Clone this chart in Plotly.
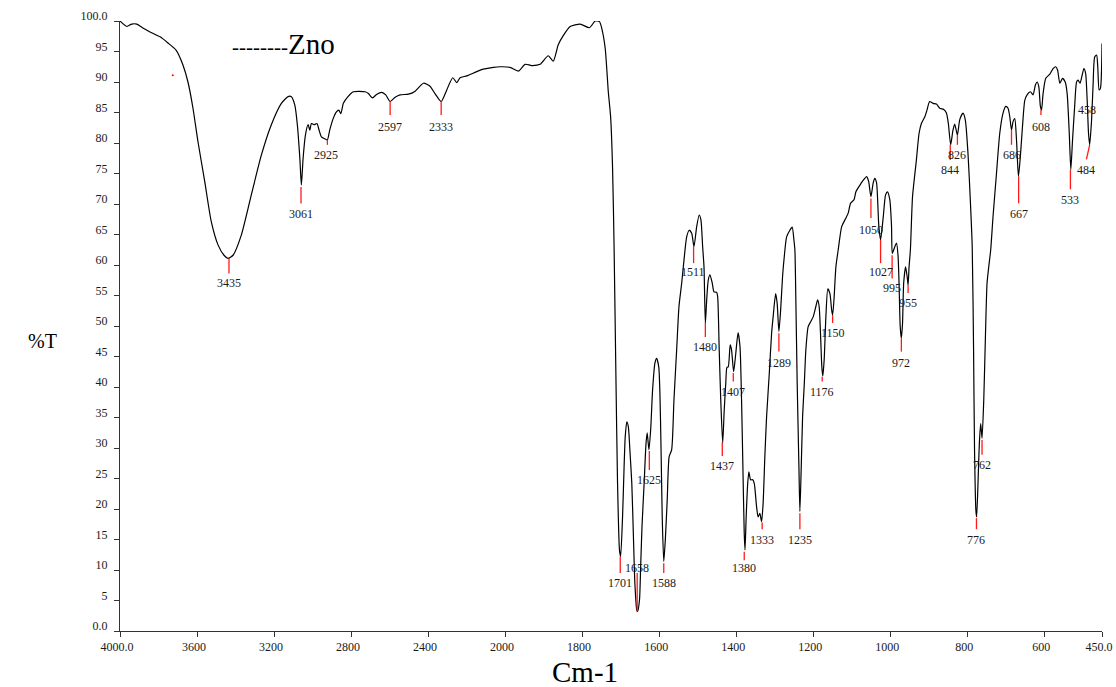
import numpy as np
import plotly.graph_objects as go

# ---------------- data ----------------
wavenumber = [4000, 3965, 3939, 3913, 3879, 3844, 3792, 3751, 3708,
              3673, 3647, 3621, 3595, 3560, 3526, 3491, 3460, 3439, 3413,
              3370, 3318, 3266, 3214, 3162, 3127, 3110, 3092, 3079, 3066, 3058, 3049, 3037,
              3023, 3014, 3006, 2992, 2977, 2966, 2954, 2937, 2923, 2911, 2893, 2876, 2864,
              2853, 2840, 2816, 2788, 2727, 2710, 2689, 2666, 2641, 2620, 2597, 2571, 2545,
              2502, 2467, 2424, 2390, 2364, 2332, 2303, 2272, 2251, 2234, 2199, 2147, 2113,
              2061, 2026, 1987, 1965.5, 1948, 1931, 1909, 1888, 1875, 1862, 1849, 1831, 1805,
              1781, 1766, 1755, 1749, 1740, 1732, 1726, 1721, 1717, 1712, 1708, 1703, 1700,
              1695, 1691, 1688, 1684, 1680, 1676, 1671, 1667, 1663, 1658, 1656, 1651, 1648,
              1644.5, 1639, 1634, 1631, 1626.5, 1622, 1617, 1611, 1606.5, 1601, 1598, 1595,
              1592, 1588, 1584, 1579, 1574, 1567.5, 1561.5, 1554.5, 1548.5, 1541.5, 1535.5,
              1528.5, 1522, 1515.5, 1509.5, 1502.5, 1496, 1491.5, 1487, 1483.5, 1480, 1476.5,
              1472.5, 1468, 1462, 1457.5, 1450.5, 1448, 1444, 1440, 1435, 1431, 1427, 1424,
              1420.5, 1415.5, 1412, 1406.5, 1401, 1395, 1390, 1386, 1382.5, 1379, 1377, 1374,
              1370, 1367, 1362.5, 1357, 1353, 1347, 1343, 1338.5, 1334, 1330, 1325.5, 1321,
              1314, 1308, 1304, 1297.5, 1293.5, 1289, 1284.5, 1279.5, 1275, 1269, 1260.5,
              1254.5, 1250, 1247.5, 1245, 1241.5, 1237, 1234.5, 1231, 1227.5, 1223, 1219,
              1213, 1206.5, 1200, 1193, 1188.5, 1184.5, 1181, 1177.5, 1175, 1171.5, 1167,
              1162, 1156.5, 1152, 1149.5, 1146, 1141, 1135, 1126, 1117.5, 1109, 1103, 1094,
              1089, 1078.5, 1070, 1061, 1056, 1050, 1044, 1040, 1035.5, 1029.5, 1025, 1018,
              1012, 1007, 1001, 996.5, 994.5, 988, 983.5, 979.5, 977, 974, 971, 968, 965, 960,
              956, 953.5, 951, 947.5, 942, 932, 925, 919, 910, 904.5, 897.5, 889, 880, 871.5,
              861, 854, 849, 843, 837, 832.5, 825.5, 819.5, 811, 805, 798, 792, 787, 783.5,
              781, 777.5, 775.5, 772, 768.5, 765, 761.5, 757, 752.5, 748.5, 743, 739, 733,
              724, 715.5, 707, 700, 694, 689.5, 685, 681, 676.5, 672, 667, 662, 656.5, 650.5,
              644.5, 636, 629, 623, 618.5, 614, 610, 607, 603, 596, 585.5, 577, 570.5, 565.5,
              559.5, 552.5, 545.5, 540.5, 535, 531, 526.5, 521, 516, 512, 507, 502, 497,
              492.5, 488.5, 485, 482, 477, 473, 469, 464, 461, 457.5, 454, 450]
transmittance = [100.0, 99.1, 99.5, 99.5, 98.8, 98.2, 97.4, 96.4, 95.2,
                 92.8, 90.0, 85.7, 80.2, 73.7, 67.1, 63.3, 61.6, 61.1, 61.6,
                 64.9, 71.5, 78.0, 83.0, 86.5, 87.6, 87.6, 86.2, 83.0, 77.5, 73.1, 77.5, 81.3,
                 83.0, 82.1, 83.2, 83.0, 83.2, 82.1, 81.0, 80.7, 80.5, 82.1, 84.0, 85.1, 85.4,
                 84.8, 86.5, 87.6, 88.4, 88.4, 88.1, 87.4, 88.0, 88.3, 87.9, 86.8, 87.5, 87.9,
                 88.0, 88.5, 89.8, 89.3, 88.1, 86.8, 88.7, 90.7, 89.9, 90.7, 91.0, 91.7, 92.1,
                 92.4, 92.5, 92.4, 91.8, 92.9, 92.7, 92.9, 94.3, 93.4, 96.1, 97.6, 99.1, 99.5,
                 98.9, 100.0, 99.9, 98.8, 95.5, 88.4, 84.3, 76.1, 63.0, 40.7, 24.2, 13.3, 12.2,
                 18.7, 26.9, 31.9, 34.3, 33.5, 29.7, 24.2, 16.0, 7.8, 3.4, 3.2, 5.1, 10.5,
                 17.1, 24.2, 30.8, 32.5, 29.7, 33.0, 39.5, 43.9, 44.7, 43.3, 39.0, 29.7,
                 18.7, 11.4, 14.9, 21.5, 28.6, 29.7, 37.9, 46.1, 53.2, 57.0, 60.8,
                 64.6, 65.7, 65.2, 63.0, 66.3, 68.2, 67.4, 63.0, 59.7, 50.4, 54.3,
                 57.5, 58.4, 57.0, 55.6, 55.5, 54.8, 46.1, 37.9, 30.8, 36.2, 40.6, 43.2,
                 43.3, 46.9, 46.1, 42.5, 45.5, 48.9, 46.6, 37.9, 26.9, 16.0, 13.3, 18.7,
                 24.2, 26.1, 24.8, 24.8, 24.2, 20.4, 18.7, 19.3, 17.9, 20.9, 28.6, 35.1,
                 42.2, 48.8, 51.5, 55.3, 53.7, 49.1, 52.6, 58.1, 61.4, 64.6, 65.7,
                 66.2, 64.1, 62.5, 54.3, 40.6, 26.9, 19.6, 26.9, 35.1, 40.6, 46.1,
                 49.9, 50.7, 51.5, 53.2, 54.3, 53.2, 48.8, 43.3, 41.8, 44.4, 51.5,
                 56.1, 55.3, 52.6, 51.8, 54.3, 59.7, 62.5, 66.3, 67.4, 68.5, 70.1, 70.7,
                 72.0, 73.1, 73.9, 74.5, 73.7, 71.2, 73.5, 74.2, 73.5, 66.3, 64.1, 67.9,
                 71.5, 72.0, 70.7, 66.3, 61.9, 63.0, 63.6, 61.4, 57.0, 49.9, 48.0, 50.4, 57.0, 59.7,
                 58.1, 56.7, 59.7, 62.5, 71.2, 77.2, 81.6, 83.2, 84.3, 85.4, 86.8, 86.5, 86.4, 85.7,
                 85.5, 84.9, 83.2, 79.7, 82.1, 83.1, 81.3, 83.8, 84.9, 83.8, 78.3, 70.7, 63.0, 46.1,
                 29.7, 19.8, 18.7, 24.2, 30.8, 34.0, 31.6, 37.9, 48.8, 57.0, 60.3, 62.5, 67.9,
                 75.0, 81.6, 84.9, 86.0, 85.7, 84.3, 82.1, 83.5, 84.0, 80.5, 74.5, 77.8, 82.7, 87.0,
                 87.9, 88.4, 87.9, 89.5, 90.0, 89.2, 86.0, 85.4, 88.1, 90.6, 91.3, 92.2, 92.5, 92.0,
                 89.8, 90.6, 90.0, 88.1, 81.6, 75.6, 80.5, 86.0, 90.0, 90.3, 89.8, 91.0, 92.2,
                 91.4, 87.0, 81.6, 79.7, 83.8, 89.8, 94.1, 94.4, 92.5, 88.7, 89.0, 96.3]

# labelled peaks: label, marker wavenumber (top/bottom), marker %T (top/bottom), label position
peak_labels = ["3435", "3061", "2925", "2597", "2333", "1701", "1658", "1625", "1588", "1511",
               "1480", "1437", "1407", "1380", "1333", "1289", "1235", "1176", "1150", "1050",
               "1027", "995", "972", "955", "844", "826", "776", "762", "686", "667", "608",
               "533", "484", "458"]
mark_wn_top = [3434, 3060, 2923, 2597, 2332, 1701, 1657, 1625.5, 1588, 1510.5,
               1480, 1436, 1407.5, 1379, 1332.5, 1289, 1234.5, 1176.5, 1149.5, 1050,
               1025, 995, 971, 953.5, 844, 825.5, 776, 761.5, 685, 666.5, 608.5,
               532, 482, None]
mark_wn_bot = [3434, 3060, 2923, 2597, 2332, 1701, 1657, 1625.5, 1588, 1510.5,
               1480, 1436, 1407.5, 1379, 1332.5, 1289, 1234.5, 1176.5, 1149.5, 1050,
               1025, 995, 971, 953.5, 844, 825.5, 776, 761.5, 685, 666.5, 608.5,
               532, 490.5, None]
mark_t_top = [61.1, 72.8, 80.5, 86.8, 86.8, 12.2, 9.5, 29.5, 11.1, 63.0,
              50.5, 30.9, 42.3, 13.0, 17.8, 48.8, 19.3, 41.7, 51.8, 70.9,
              64.1, 61.6, 48.0, 56.7, 79.7, 81.3, 18.5, 31.3, 82.1, 74.5, 85.4,
              75.6, 79.7, None]
mark_t_bot = [58.6, 70.1, 79.7, 84.6, 84.6, 9.5, 3.2, 26.4, 9.5, 60.3,
              48.2, 28.7, 40.9, 11.6, 16.7, 45.8, 16.7, 40.9, 50.5, 67.7,
              60.3, 57.8, 45.8, 55.4, 77.2, 79.7, 16.7, 28.9, 79.7, 70.1, 84.6,
              72.4, 77.3, None]
label_wn = [3434, 3060, 2929, 2597, 2332, 1701, 1657, 1625.5, 1588, 1511,
            1480, 1436, 1407.5, 1379, 1334, 1289, 1234.5, 1176, 1148, 1050,
            1024, 996, 971, 954, 844.5, 825.5, 776, 762, 685, 666.5, 608.5,
            534, 492, 490]
label_t = [57.0, 68.4, 78.1, 82.7, 82.7, 7.9, 10.3, 24.7, 7.9, 58.8,
           46.5, 27.0, 39.1, 10.3, 15.0, 43.9, 15.0, 39.1, 48.9, 65.8,
           58.8, 56.2, 43.9, 53.8, 75.5, 78.0, 15.0, 27.2, 78.0, 68.4, 82.7,
           70.6, 75.5, 85.4]

x_tick_values = [4000, 3600, 3200, 2800, 2400, 2000, 1800, 1600, 1400, 1200, 1000, 800, 600, 450]
x_tick_text = ["4000.0", "3600", "3200", "2800", "2400", "2000", "1800", "1600", "1400",
               "1200", "1000", "800", "600", "450.0"]
y_tick_values = list(range(0, 101, 5))
y_tick_text = ["0.0"] + [str(v) for v in range(5, 100, 5)] + ["100.0"]

stray_dot_wn = [3726]
stray_dot_t = [91.1]


# ---------------- axis transform (instrument scale changes at 2000 cm-1) ----------------
def to_axis(w):
    w = np.asarray(w, dtype=float)
    return np.where(w >= 2000, (4000 - w) / 2.0, 1000 + (2000 - w))


SERIF = "Liberation Serif, Times New Roman, serif"

fig = go.Figure()

fig.add_trace(go.Scatter(
    x=to_axis(wavenumber), y=transmittance, mode="lines",
    line=dict(color="black", width=1.2, shape="spline", smoothing=0.6),
    hoverinfo="skip", showlegend=False))

mx, my = [], []
for a, b, ta, tb in zip(mark_wn_top, mark_wn_bot, mark_t_top, mark_t_bot):
    if a is None:
        continue
    mx += [float(to_axis(a)), float(to_axis(b)), None]
    my += [ta, tb, None]
fig.add_trace(go.Scatter(x=mx, y=my, mode="lines", line=dict(color="#ff1a1a", width=1.3),
                         hoverinfo="skip", showlegend=False))

fig.add_trace(go.Scatter(x=to_axis(stray_dot_wn), y=stray_dot_t, mode="markers",
                         marker=dict(color="red", size=2), hoverinfo="skip", showlegend=False))

for lab, w, t in zip(peak_labels, label_wn, label_t):
    fig.add_annotation(x=float(to_axis(w)), y=t, text=lab, showarrow=False,
                       xanchor="center", yanchor="middle",
                       font=dict(family=SERIF, size=12, color="#1a1a1a"))

fig.add_annotation(xref="paper", yref="paper", x=0.112, y=0.962,
                   text='<span style="font-size:21px">--------</span>Zno',
                   showarrow=False, xanchor="left", yanchor="middle",
                   font=dict(family=SERIF, size=29, color="black"))
fig.add_annotation(xref="paper", yref="paper", x=-0.079, y=0.475, text="%T",
                   showarrow=False, xanchor="center", yanchor="middle",
                   font=dict(family=SERIF, size=20, color="black"))
fig.add_annotation(xref="paper", yref="paper", x=(585 - 120) / 982, y=-0.068, text="Cm-1",
                   showarrow=False, xanchor="center", yanchor="middle",
                   font=dict(family=SERIF, size=29, color="black"))

fig.update_layout(
    width=1116, height=687,
    margin=dict(l=120, r=14, t=21, b=56),
    paper_bgcolor="white", plot_bgcolor="white",
    xaxis=dict(range=[0, 2550], tickmode="array", automargin=False,
               tickvals=to_axis(x_tick_values).tolist(), ticktext=x_tick_text,
               showgrid=False, zeroline=False, showline=True, linecolor="#333333",
               linewidth=1, ticks="outside", ticklen=5, tickcolor="#333333",
               ticklabelshift=-3,
               tickfont=dict(family=SERIF, size=12, color="#1a1a1a")),
    yaxis=dict(range=[0, 100], tickmode="array", tickvals=y_tick_values, automargin=False,
               ticktext=y_tick_text, showgrid=False, zeroline=False, showline=True,
               linecolor="#333333", linewidth=1, ticks="outside", ticklen=5,
               tickcolor="#333333", ticklabelshift=-5, ticklabelstandoff=4,
               tickfont=dict(family=SERIF, size=12, color="#1a1a1a")),
)

fig.write_html("out.html")
